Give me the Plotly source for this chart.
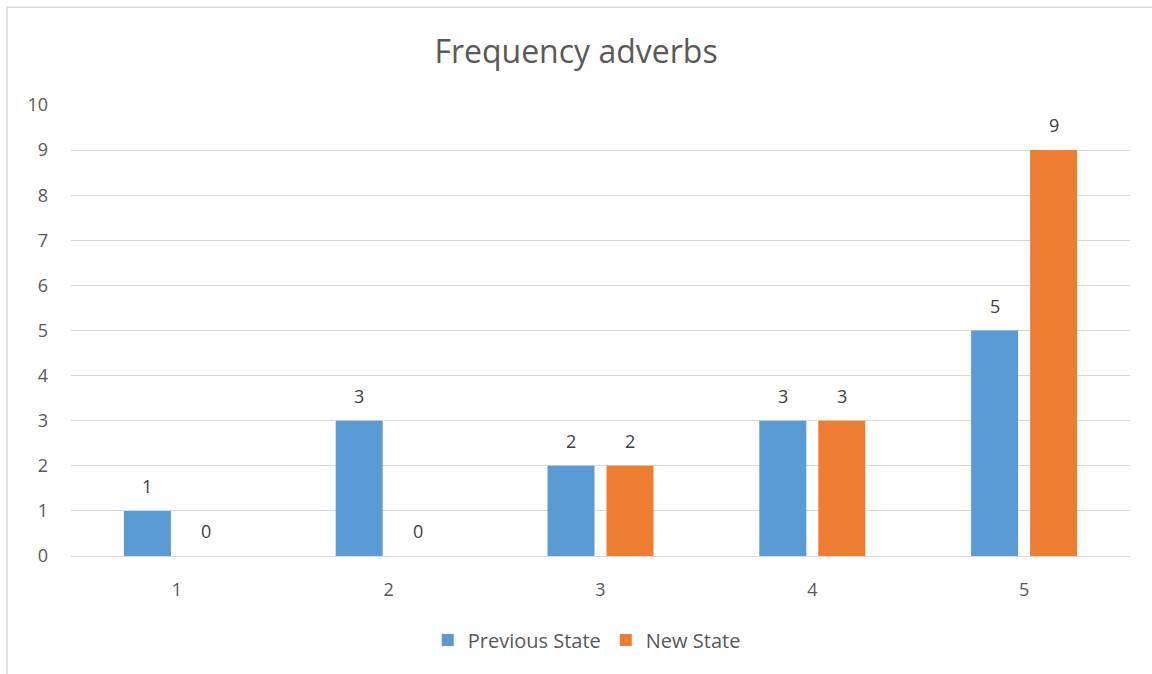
import plotly.graph_objects as go

categories = [1, 2, 3, 4, 5]
previous_state = [1, 3, 2, 3, 5]
new_state = [0, 0, 2, 3, 9]
y_ticks = list(range(0, 11))

TEXT = "#595959"
FONT = "'Open Sans', Lato, sans-serif"

fig = go.Figure()
fig.add_trace(go.Bar(
    x=categories, y=previous_state, name="Previous State",
    marker=dict(color="#5B9BD5", line=dict(width=0)),
))
fig.add_trace(go.Bar(
    x=categories, y=new_state, name="New State",
    marker=dict(color="#ED7D31", line=dict(width=0)),
))

# value labels sit above each bar, shifted to the bar's slot in the group
slot_shift = 29.5
annotations = []
for values, shift in ((previous_state, -slot_shift), (new_state, slot_shift)):
    for cat, v in zip(categories, values):
        annotations.append(dict(
            x=cat, y=v, xref="x", yref="y", text=str(v), showarrow=False,
            xshift=shift, yshift=25, yanchor="middle",
            font=dict(size=18, color="#404040", family=FONT),
        ))

fig.update_layout(
    width=1152, height=674,
    margin=dict(l=71, r=22, t=105, b=118),
    paper_bgcolor="white", plot_bgcolor="white",
    barmode="group", bargap=0.443, bargroupgap=0.203,
    font=dict(family=FONT, color=TEXT, size=18),
    title=dict(text="Frequency adverbs", x=0.5, xanchor="center",
               y=1 - 52 / 674, yanchor="middle",
               font=dict(size=32, color=TEXT, family=FONT)),
    xaxis=dict(range=[0.5, 5.5], tickvals=categories, showgrid=False,
               showline=True, linecolor="#D9D9D9", linewidth=1, zeroline=False,
               ticks="", tickfont=dict(size=18, color=TEXT), ticklabelstandoff=17),
    yaxis=dict(range=[0, 10], tickvals=y_ticks, showgrid=True,
               gridcolor="#D9D9D9", gridwidth=1, zeroline=False, showline=False,
               ticks="", tickfont=dict(size=18, color=TEXT), ticklabelstandoff=22),
    legend=dict(orientation="h", x=0.487, xanchor="center", y=-0.186,
                yanchor="middle", font=dict(size=20, color=TEXT),
                itemwidth=30, traceorder="normal"),
    showlegend=True,
    annotations=annotations,
    shapes=[dict(type="rect", xref="paper", yref="paper",
                 x0=-0.0604, x1=1.1, y0=-0.4, y1=1.217,
                 line=dict(color="#D9D9D9", width=1.5), layer="below")],
)

fig.write_html("out.html")
